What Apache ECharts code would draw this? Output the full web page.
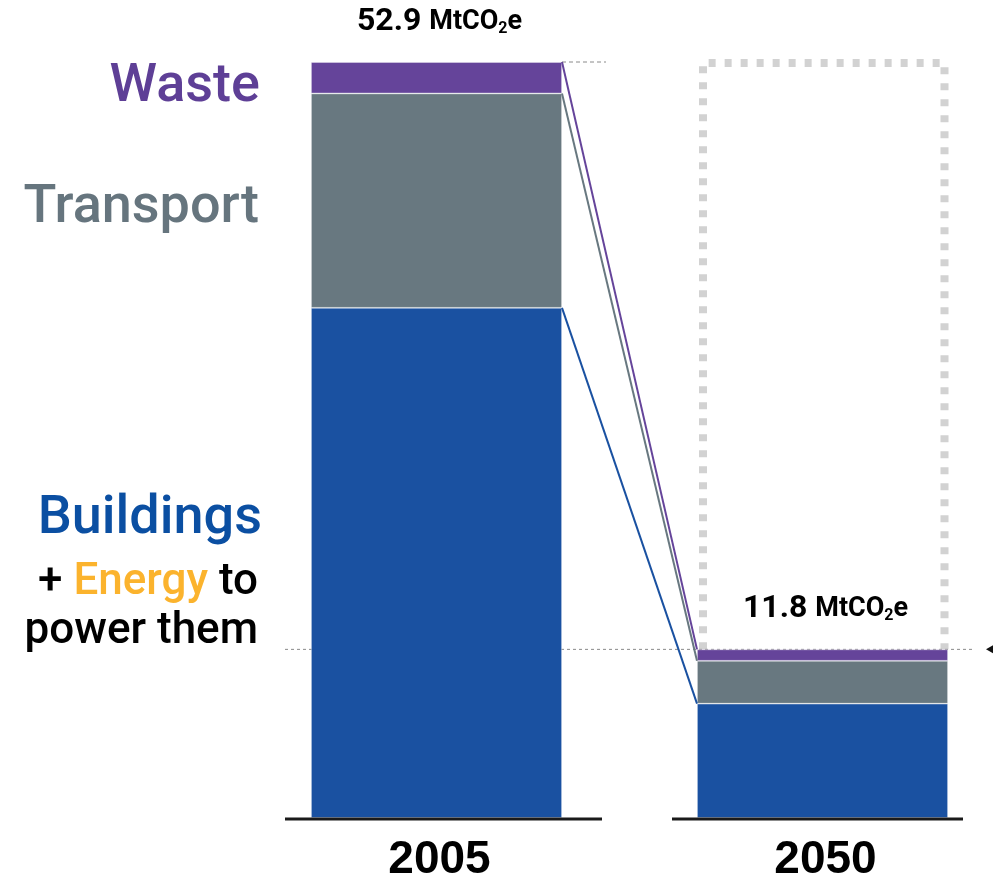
<!DOCTYPE html>
<html><head><meta charset="utf-8">
<script src="https://cdn.jsdelivr.net/npm/echarts@6/dist/echarts.min.js"></script>
<style>html,body{margin:0;padding:0;background:#fff}#c{width:1005px;height:879px}</style>
</head><body><div id="c"></div>
<script>
// ---- data ----
const years = ['2005', '2050'];
const buildings = [35.7, 8.0];
const transport = [15.0, 3.0];
const waste = [2.2, 0.8];
const totals = [52.9, 11.8];
const unitMain = 'MtCO';
const unitSub = '2';
const unitEnd = 'e';

// ---- styles ----
const COL = { b: '#1a51a1', t: '#687880', w: '#65449a' };
const BAR_W = 251;
const BASE_EXT = [[151.5, 165.5], [150.5, 140.5]];
const FONT = 'Roboto, "Liberation Sans", sans-serif';

const chart = echarts.init(document.getElementById('c'), null, { renderer: 'canvas' });

const cum = years.map((_, i) => [buildings[i], buildings[i] + transport[i], buildings[i] + transport[i] + waste[i]]);

function barSeries(name, arr, color) {
  return {
    name, type: 'bar', stack: 'all', data: arr, barWidth: BAR_W, clip: false,
    itemStyle: { color, borderColor: 'rgba(255,255,255,0.45)', borderWidth: 0.8 },
    z: 3, silent: true
  };
}

const option = {
  backgroundColor: '#fff',
  animation: false,
  grid: { left: 436.5, right: 182.5, top: 32, bottom: 61 },
  xAxis: { type: 'category', data: years, show: false, boundaryGap: false },
  yAxis: { type: 'value', min: 0, max: 55, show: false },
  series: [
    // dotted box showing 2005 level over 2050 bar
    {
      type: 'custom', z: 1, silent: true, clip: false,
      data: [[1, totals[0]]],
      renderItem: function (params, api) {
        const pTop = api.coord([1, totals[0]]);
        const pBot = api.coord([1, totals[1]]);
        const xl = pTop[0] - BAR_W / 2 + 6, xr = pTop[0] + BAR_W / 2 - 3.5;
        const yt = pTop[1] + 1, yb = pBot[1];
        return {
          type: 'polyline',
          shape: { points: [[xl, yb], [xl, yt], [xr, yt], [xr, yb]] },
          style: { stroke: '#d2d2d2', lineWidth: 8, lineDash: [7, 9], fill: null, lineCap: 'butt' }
        };
      }
    },
    // reference lines
    {
      type: 'custom', z: 2, silent: true, clip: false,
      data: [[0, totals[0]]],
      renderItem: function (params, api) {
        const p0 = api.coord([0, totals[0]]);
        const p1 = api.coord([1, totals[1]]);
        const p0b = api.coord([0, totals[1]]);
        return {
          type: 'group', children: [
            { type: 'line', shape: { x1: p0[0] + BAR_W / 2, y1: p0[1], x2: p0[0] + BAR_W / 2 + 44, y2: p0[1] },
              style: { stroke: '#8a8a8a', lineWidth: 1, lineDash: [4, 3] } },
            { type: 'line', shape: { x1: p0b[0] - BAR_W / 2 - 26, y1: p1[1], x2: p1[0] + BAR_W / 2 + 25, y2: p1[1] },
              style: { stroke: '#8a8a8a', lineWidth: 1, lineDash: [3, 3] } },
            { type: 'polygon', shape: { points: [[p1[0] + BAR_W / 2 + 38, p1[1]], [p1[0] + BAR_W / 2 + 45, p1[1] - 4], [p1[0] + BAR_W / 2 + 45, p1[1] + 4]] },
              style: { fill: '#111' } }
          ]
        };
      }
    },
    barSeries('Buildings', buildings, COL.b),
    barSeries('Transport', transport, COL.t),
    barSeries('Waste', waste, COL.w),
    // connectors
    {
      type: 'custom', z: 4, silent: true, clip: false,
      data: [[0, 0]],
      renderItem: function (params, api) {
        const cols = [COL.b, COL.t, COL.w];
        const children = [];
        for (let k = 0; k < 3; k++) {
          const a = api.coord([0, cum[0][k]]);
          const b = api.coord([1, cum[1][k]]);
          children.push({ type: 'line', shape: { x1: a[0] + BAR_W / 2, y1: a[1], x2: b[0] - BAR_W / 2, y2: b[1] },
            style: { stroke: cols[k], lineWidth: 2 } });
        }
        return { type: 'group', children };
      }
    },
    // baselines, year labels, total labels
    {
      type: 'custom', z: 5, silent: true, clip: false,
      data: years.map((y, i) => [i, totals[i]]),
      renderItem: function (params, api) {
        const i = params.dataIndex;
        const base = api.coord([i, 0]);
        const top = api.coord([i, api.value(1)]);
        const ext = BASE_EXT[i];
        return {
          type: 'group', children: [
            { type: 'line', shape: { x1: base[0] - ext[0], y1: base[1] + 1, x2: base[0] + ext[1], y2: base[1] + 1 },
              style: { stroke: '#1a1a1a', lineWidth: 3 } },
            { type: 'text', x: base[0] + 3, y: base[1] + 42,
              style: { text: years[i], fill: '#000', font: 'bold 46px "Liberation Sans", Arial, sans-serif', align: 'center', verticalAlign: 'middle' } },
            { type: 'text', x: top[0] + 3, y: top[1] - 40,
              style: {
                text: '{a|' + totals[i].toFixed(1) + ' }{b|' + unitMain + '}{s|' + unitSub + '}{b|' + unitEnd + '}',
                align: 'center', verticalAlign: 'middle',
                rich: {
                  a: { fontFamily: FONT, fontWeight: 'bold', fontSize: 32, fill: '#000', color: '#000' },
                  b: { fontFamily: FONT, fontWeight: 'bold', fontSize: 27, fill: '#000', color: '#000' },
                  s: { fontFamily: FONT, fontWeight: 'bold', fontSize: 16, fill: '#000', color: '#000', padding: [14, 0, 0, 0] }
                }
              } }
          ]
        };
      }
    }
  ],
  graphic: [
    { type: 'text', right: 1005 - 260, top: 60, style: { text: 'Waste', font: '500 54px ' + FONT, fill: '#5e3f96' } },
    { type: 'text', right: 1005 - 259, top: 181, style: { text: 'Transport', font: '500 54px ' + FONT, fill: '#66757e' } },
    { type: 'text', right: 1005 - 262, top: 492, style: { text: 'Buildings', font: '500 54px ' + FONT, fill: '#0b4fa2' } },
    { type: 'text', right: 1005 - 258, top: 561, style: {
        text: '{k|+ }{o|Energy}{k| to}',
        rich: { k: { fontFamily: FONT, fontWeight: 500, fontSize: 44, color: '#000', fill: '#000' },
                o: { fontFamily: FONT, fontWeight: 500, fontSize: 44, color: '#fbb32d', fill: '#fbb32d' } } } },
    { type: 'text', right: 1005 - 258, top: 610, style: { text: 'power them', font: '500 44px ' + FONT, fill: '#000' } }
  ]
};
chart.setOption(option);
</script>
</body></html>
